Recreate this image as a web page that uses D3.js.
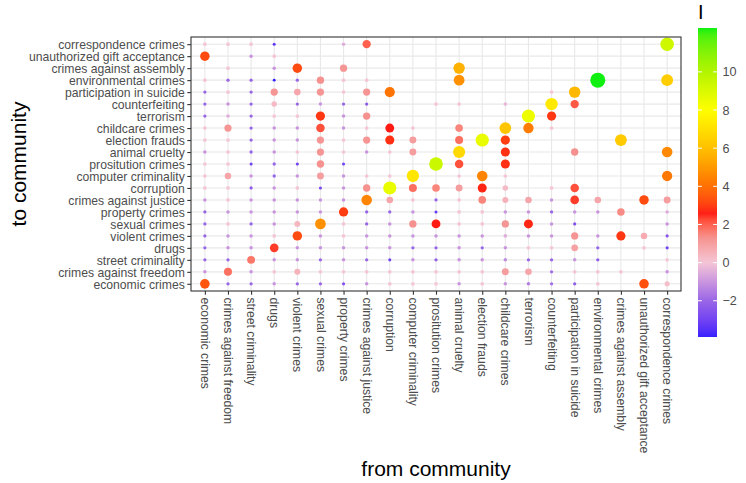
<!DOCTYPE html>
<html>
<head>
<meta charset="utf-8">
<script src="https://cdn.jsdelivr.net/npm/d3@7"></script>
<style>
  body { margin: 0; background: #fff; }
  text { font-family: "Liberation Sans", Arial, sans-serif; }
</style>
</head>
<body>
<div id="chart"></div>
<script>
// community names, same order on both axes
const communities = [
    "economic crimes", "crimes against freedom", "street criminality", "drugs",
    "violent crimes", "sexual crimes", "property crimes", "crimes against justice",
    "corruption", "computer criminality", "prositution crimes", "animal cruelty",
    "election frauds", "childcare crimes", "terrorism", "counterfeiting",
    "participation in suicide", "environmental crimes", "crimes against assembly",
    "unauthorized gift acceptance", "correspondence crimes"
];

// I values, one row per "to" community, one entry per "from" community (null = no point)
const _ = null;
const iValues = [
    [3.4, -2, -2, -1, -2, -2, -2.6, -1, 0, 0, 0, -1, 0, -1, -1.5, -1.8, -2.3, 0, _, 3.3, 0.2],
    [-1, 1.8, -1, 0, 0.5, 0, 0, 0, 0, 0, 0, 0, 0, 1, 0.8, -1.8, 0, 0, 0, _, -1],
    [-2, -2, 1.7, -1, -1, -2, -1, -2, -3, -1, -2.2, -1, -1, -1.2, -2, -2, -1, -2.3, _, _, 0],
    [-2, -1, -1, 2.4, -1, -1, -1, -1, -1, -2, -2, -1, -2, -1, 0, 0, 0.9, -2, _, 0, -3],
    [-2, -1, -1, 0, 3.2, -1, 0, -1, -1, -1, -1, -1, -1, -0.5, -1, -1, 1.2, -1, 2.9, 0.7, -2.5],
    [-2, 0, -2, -1, 0.4, 4.8, 0, -2, -1, 1.3, 2.6, 0, 0, 1.2, 2.7, -1, -2.6, _, _, _, -1],
    [-2, -1, -1, -1, -1, -1, 3.0, -2, -2, -1, -3.2, 0, 0, -1, -1, -2, -1, -1, 1.4, _, -0.5],
    [-1, 0, -1, -1, -1, -1, -1, 4.5, 0.8, 0, -2, 0, 1.5, 0.5, 0.8, -1, 2.4, 0.8, _, 3.2, 1],
    [0, 0, -2.3, -1, 0, -2.8, -1, 1.3, 8.6, 1.8, 1.5, 1, 2.7, 0.3, _, 0, 2.2, _, _, _, _],
    [0, 0.8, -1, -2, -1, 1, -1, 0, 0, 7.2, _, 0, 4.5, 0, _, _, _, _, _, _, 4.2],
    [0, 0, -3, -2, -3, 1.3, -3, _, _, _, 9.4, 2.2, _, 2.8, _, _, _, _, _, _, _],
    [-1, 0, -2, -1, 0, 1.2, 0, -1, 0, 1, _, 6.8, _, 2.8, _, _, 1.3, _, _, _, 4.6],
    [0, 0, -2, -1, -1, 1.2, 0, 1.2, 2.8, 1, _, 1.8, 8.6, 3, _, _, _, _, 6.3, _, _],
    [0, 1.2, -2, -1, -1, 2.2, -1, 0, 2.6, 0, _, 1.5, _, 6.2, 4.3, 0, _, _, _, _, _],
    [-2, -0.5, -2, 0, 0, 2.9, -1, 1.3, _, _, _, _, _, _, 8.5, 2.9, _, _, _, _, _],
    [-2, -1, -2, 0.3, -2, -1, -2, -2.3, _, _, 0, 0, _, -0.3, _, 7.3, 2.1, _, _, _, _],
    [-2, 0, -2, 1.2, 0.8, 1.2, 0, 1.2, 4.1, _, _, _, _, _, _, 0, 5.8, _, _, _, _],
    [0, -2, -2, -3.9, -2, 1.3, 0, 0, _, _, _, 4.8, _, _, _, _, _, 12.3, _, _, 6.4],
    [_, 0, _, -1, 3.2, _, 1.2, _, _, _, _, 5.6, _, _, _, _, _, _, _, _, _],
    [3.2, _, -1, 0, _, _, _, _, _, _, _, _, _, _, _, _, _, _, _, _, _],
    [0, 0, 0, -3.3, _, _, -0.5, 2, _, _, _, _, _, _, _, _, _, _, _, _, 9.3]
];

const legendTicks = [-2, 0, 2, 4, 6, 8, 10];

// flatten to points
const points = [];
iValues.forEach((row, j) => {
    row.forEach((v, i) => {
        if (v !== null) points.push({ from: communities[i], to: communities[j], value: v });
    });
});

const width = 746;
const height = 483;
const panel = { left: 191, right: 681, top: 37, bottom: 291 };

const svg = d3.select("#chart")
    .append("svg")
    .attr("width", width)
    .attr("height", height);

const x = d3.scalePoint()
    .domain(communities)
    .range([panel.left, panel.right])
    .padding(0.6);

const y = d3.scalePoint()
    .domain(communities)
    .range([panel.bottom, panel.top])
    .padding(0.6);

const vMin = d3.min(points, d => d.value);
const vMax = d3.max(points, d => d.value);

// colour gradient
const color = d3.scaleLinear()
    .domain([-4, -2, 0, 1.3, 2.6, 4.3, 6, 8, 10, 12.3])
    .range(["#2a1cff", "#9966e6", "#f4c6d6", "#f5928f", "#ff1a14", "#ff7c00", "#ffc000", "#ffff00", "#b2f400", "#10f010"])
    .interpolate(d3.interpolateLab)
    .clamp(true);

const sizePos = d3.scaleSqrt().domain([0, vMax]).range([1.85, 7.5]);
const sizeNeg = d3.scaleLinear().domain([vMin, 0]).range([1.45, 1.85]);
const radius = v => v > 0 ? sizePos(v) : sizeNeg(v);

// panel background + grid
svg.append("rect")
    .attr("x", panel.left).attr("y", panel.top)
    .attr("width", panel.right - panel.left)
    .attr("height", panel.bottom - panel.top)
    .attr("fill", "white");

const grid = svg.append("g");
grid.selectAll(".vgrid")
    .data(communities)
    .enter()
    .append("line")
    .attr("x1", d => x(d)).attr("x2", d => x(d))
    .attr("y1", panel.top).attr("y2", panel.bottom)
    .attr("stroke", "#e8e8e8")
    .attr("stroke-width", 1.1);
grid.selectAll(".hgrid")
    .data(communities)
    .enter()
    .append("line")
    .attr("y1", d => y(d)).attr("y2", d => y(d))
    .attr("x1", panel.left).attr("x2", panel.right)
    .attr("stroke", "#e8e8e8")
    .attr("stroke-width", 1.1);

// points
svg.append("g")
    .selectAll("circle")
    .data(points)
    .enter()
    .append("circle")
    .attr("cx", d => x(d.from))
    .attr("cy", d => y(d.to))
    .attr("r", d => radius(d.value))
    .attr("fill", d => color(d.value));

// panel border
svg.append("rect")
    .attr("x", panel.left).attr("y", panel.top)
    .attr("width", panel.right - panel.left)
    .attr("height", panel.bottom - panel.top)
    .attr("fill", "none")
    .attr("stroke", "#333333")
    .attr("stroke-width", 1.1);

// axes
const yAxis = svg.append("g")
    .attr("transform", `translate(${panel.left},0)`)
    .call(d3.axisLeft(y).tickSize(3.7).tickPadding(2.5));
yAxis.select(".domain").remove();
yAxis.selectAll("line").attr("stroke", "#333333").attr("stroke-width", 1.1);
yAxis.selectAll("text")
    .attr("fill", "#4d4d4d")
    .style("font-size", "12.2px")
    .attr("dy", "0.36em");

const xAxis = svg.append("g")
    .attr("transform", `translate(0,${panel.bottom})`)
    .call(d3.axisBottom(x).tickSize(3.7).tickPadding(2.5));
xAxis.select(".domain").remove();
xAxis.selectAll("line").attr("stroke", "#333333").attr("stroke-width", 1.1);
xAxis.selectAll("text")
    .attr("fill", "#4d4d4d")
    .style("font-size", "12.2px")
    .attr("text-anchor", "start")
    .attr("transform", "rotate(90)")
    .attr("x", 6.5)
    .attr("y", 0)
    .attr("dy", "0.36em");

// axis titles
svg.append("text")
    .attr("x", (panel.left + panel.right) / 2)
    .attr("y", 476)
    .attr("text-anchor", "middle")
    .style("font-size", "21px")
    .text("from community");

svg.append("text")
    .attr("transform", `translate(26,${(panel.top + panel.bottom) / 2}) rotate(-90)`)
    .attr("text-anchor", "middle")
    .style("font-size", "21px")
    .text("to community");

// colour bar legend
const bar = { x: 698, w: 19, top: 28, bottom: 337 };
const legendY = d3.scaleLinear().domain([vMin, vMax]).range([bar.bottom, bar.top]);

const grad = svg.append("defs")
    .append("linearGradient")
    .attr("id", "ibar")
    .attr("x1", 0).attr("y1", 1).attr("x2", 0).attr("y2", 0);
grad.selectAll("stop")
    .data(d3.range(0, 1.0001, 0.02))
    .enter()
    .append("stop")
    .attr("offset", d => d)
    .attr("stop-color", d => color(vMin + d * (vMax - vMin)));

svg.append("rect")
    .attr("x", bar.x).attr("y", bar.top)
    .attr("width", bar.w).attr("height", bar.bottom - bar.top)
    .attr("fill", "url(#ibar)");

const lt = svg.append("g");
legendTicks.forEach(t => {
    const ty = legendY(t);
    lt.append("line")
        .attr("x1", bar.x).attr("x2", bar.x + 3.8)
        .attr("y1", ty).attr("y2", ty)
        .attr("stroke", "white").attr("stroke-width", 1);
    lt.append("line")
        .attr("x1", bar.x + bar.w - 3.8).attr("x2", bar.x + bar.w)
        .attr("y1", ty).attr("y2", ty)
        .attr("stroke", "white").attr("stroke-width", 1);
    lt.append("text")
        .attr("x", bar.x + bar.w + 5.5)
        .attr("y", ty)
        .attr("dy", "0.36em")
        .attr("fill", "#4d4d4d")
        .style("font-size", "12.6px")
        .text(t === -2 ? "\u22122" : t);
});

svg.append("text")
    .attr("x", bar.x)
    .attr("y", 19)
    .style("font-size", "20px")
    .text("I");
</script>
</body>
</html>
